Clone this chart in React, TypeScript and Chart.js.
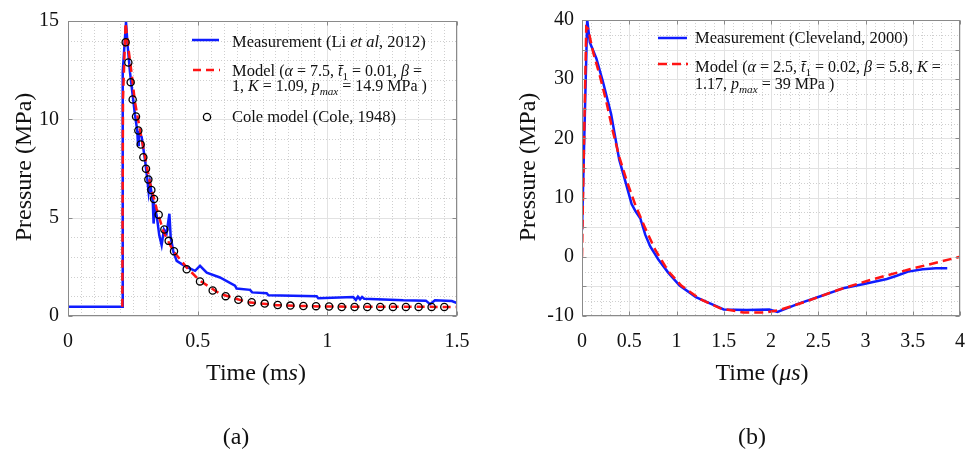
import React, { useEffect, useRef } from 'react';
import { Chart, registerables } from 'chart.js';
Chart.register(...registerables);

const FONT = '"Liberation Serif", "Times New Roman", serif';

// ---------- Panel (a) data: time (ms), pressure (MPa) ----------
const measATime = [0, 0.2095, 0.211, 0.2237, 0.229, 0.239, 0.258, 0.267, 0.270, 0.273, 0.284, 0.297, 0.306, 0.311, 0.316, 0.327, 0.330, 0.335, 0.342, 0.352, 0.361, 0.370, 0.380, 0.391, 0.396, 0.406, 0.419, 0.451, 0.490, 0.509, 0.535, 0.586, 0.644, 0.650, 0.702, 0.710, 0.766, 0.773, 0.820, 0.959, 0.965, 1.100, 1.110, 1.118, 1.126, 1.134, 1.142, 1.293, 1.380, 1.396, 1.415, 1.480, 1.500];
const measAPressure = [0.47, 0.47, 12.4, 14.95, 13.9, 12.4, 10.26, 9.43, 8.7, 9.3, 9.1, 7.94, 6.94, 6.3, 6.8, 5.8, 4.7, 5.5, 5.1, 4.1, 3.6, 4.4, 4.2, 5.2, 4.0, 3.3, 2.8, 2.54, 2.3, 2.55, 2.2, 1.96, 1.54, 1.4, 1.33, 1.2, 1.16, 1.05, 1.04, 1.0, 0.9, 0.96, 0.82, 0.98, 0.85, 0.97, 0.88, 0.8, 0.78, 0.6, 0.8, 0.76, 0.66];
const modelATime = [0.2095, 0.212, 0.222, 0.233, 0.246, 0.258, 0.278, 0.297, 0.316, 0.342, 0.368, 0.406, 0.458, 0.509, 0.586, 0.689, 0.805, 0.98, 1.5];
const modelAPressure = [0.47, 11, 14.9, 13.6, 12.26, 10.9, 9.43, 8.1, 6.78, 5.45, 4.28, 3.3, 2.46, 1.79, 1.13, 0.71, 0.55, 0.48, 0.46];
const coleTime = [0.2224, 0.2327, 0.2417, 0.2494, 0.2622, 0.2712, 0.2803, 0.2905, 0.3008, 0.3098, 0.3214, 0.3317, 0.3497, 0.3715, 0.3882, 0.4088, 0.4577, 0.509, 0.5579, 0.608, 0.6569, 0.7083, 0.7585, 0.8086, 0.8574, 0.9076, 0.9564, 1.0066, 1.0554, 1.105, 1.154, 1.204, 1.253, 1.303, 1.352, 1.402, 1.451];
const colePressure = [13.92, 12.89, 11.89, 11.01, 10.15, 9.43, 8.72, 8.07, 7.49, 6.94, 6.41, 5.95, 5.15, 4.40, 3.82, 3.29, 2.38, 1.76, 1.30, 1.01, 0.83, 0.70, 0.63, 0.56, 0.53, 0.51, 0.50, 0.48, 0.46, 0.46, 0.46, 0.46, 0.46, 0.46, 0.46, 0.46, 0.46];

// ---------- Panel (b) data: time (us), pressure (MPa) ----------
const measBTime = [0, 0.055, 0.083, 0.152, 0.221, 0.308, 0.394, 0.463, 0.525, 0.567, 0.618, 0.670, 0.722, 0.808, 0.912, 1.033, 1.205, 1.36, 1.5, 1.741, 1.982, 2.069, 2.293, 2.5, 2.777, 2.984, 3.226, 3.33, 3.451, 3.606, 3.744, 3.865];
const measBPressure = [4.5, 40.1, 36.2, 33.5, 29.6, 24.1, 16.4, 12.5, 8.9, 7.66, 6.44, 3.7, 1.76, -0.45, -2.67, -4.87, -6.8, -7.9, -8.9, -9.0, -8.9, -9.3, -7.9, -6.8, -5.26, -4.6, -3.76, -3.2, -2.5, -2.1, -1.95, -1.95];
const modelBTime = [0, 0.008, 0.045, 0.065, 0.117, 0.187, 0.256, 0.325, 0.394, 0.48, 0.567, 0.67, 0.774, 0.912, 1.05, 1.257, 1.464, 1.707, 1.948, 2.086, 2.363, 2.708, 3.054, 3.468, 4.0];
const modelBPressure = [0, 8, 38.8, 38.5, 34.6, 30.7, 26.3, 21.3, 16.9, 12.5, 8.65, 4.8, 1.2, -2.4, -4.87, -7.2, -8.7, -9.4, -9.4, -9.0, -7.6, -5.6, -3.9, -2.1, 0.0];

// axis ranges / tick steps
const xRangeA = [0, 1.5];
const yRangeA = [0, 15];
const xRangeB = [0, 4];
const yRangeB = [-10, 40];

const pts = (xs: number[], ys: number[]) => xs.map((x, i) => ({ x, y: ys[i] }));

type Seg = { t: string; s?: number; i?: boolean; sub?: boolean };

function segWidth(ctx: CanvasRenderingContext2D, segs: Seg[], base: number) {
  let w = 0;
  for (const g of segs) {
    const size = (g.s ?? base) * (g.sub ? 0.7 : 1);
    ctx.font = `${g.i ? 'italic ' : ''}${size}px ${FONT}`;
    w += ctx.measureText(g.t).width;
  }
  return w;
}

function drawRich(ctx: CanvasRenderingContext2D, x: number, y: number, segs: Seg[], base: number) {
  let cx = x;
  ctx.textBaseline = 'alphabetic';
  ctx.textAlign = 'left';
  for (const g of segs) {
    const sz = g.s ?? base;
    const size = sz * (g.sub ? 0.7 : 1);
    ctx.font = `${g.i ? 'italic ' : ''}${size}px ${FONT}`;
    ctx.fillText(g.t, cx, y + (g.sub ? sz * 0.25 : 0));
    cx += ctx.measureText(g.t).width;
  }
}

// legend / title texts
const M = 16; // math size
const L = 16.5; // legend text size
const legendA = {
  meas: [{ t: 'Measurement (Li ', s: L }, { t: 'et al', s: L, i: true }, { t: ', 2012)', s: L }] as Seg[],
  model1: [{ t: 'Model ', s: L }, { t: '(' }, { t: 'α', i: true }, { t: ' = 7.5, ' }, { t: 't\u0304', i: true }, { t: '1', sub: true }, { t: ' = 0.01, ' }, { t: 'β', i: true }, { t: ' =' }] as Seg[],
  model2: [{ t: '1, ' }, { t: 'K', i: true }, { t: ' = 1.09, ' }, { t: 'p', i: true }, { t: 'max', i: true, sub: true }, { t: ' = 14.9 MPa )' }] as Seg[],
  cole: [{ t: 'Cole model (Cole, 1948)', s: L }] as Seg[],
};
const legendB = {
  meas: [{ t: 'Measurement (Cleveland, 2000)', s: L }] as Seg[],
  model1: [{ t: 'Model ', s: L }, { t: '(' }, { t: 'α', i: true }, { t: ' = 2.5, ' }, { t: 't\u0304', i: true }, { t: '1', sub: true }, { t: ' = 0.02, ' }, { t: 'β', i: true }, { t: ' = 5.8, ' }, { t: 'K', i: true }, { t: ' =' }] as Seg[],
  model2: [{ t: '1.17, ' }, { t: 'p', i: true }, { t: 'max', i: true, sub: true }, { t: ' = 39 MPa )' }] as Seg[],
};
const yTitle: Seg[] = [{ t: 'Pressure (MPa)' }];
const xTitleA: Seg[] = [{ t: 'Time (m' }, { t: 's', i: true }, { t: ')' }];
const xTitleB: Seg[] = [{ t: 'Time (' }, { t: 'μs', i: true }, { t: ')' }];

const BLUE = '#0f1cff';
const RED = '#ff1414';

function gridPlugin(g: { xMajor: number; xMinor: number; yMajor: number; yMinor: number }) {
  const steps = (min: number, max: number, step: number) => {
    const n = Math.round((max - min) / step);
    const out: number[] = [];
    for (let k = 0; k <= n; k++) out.push(min + k * step);
    return out;
  };
  const isMaj = (v: number, maj: number) => Math.abs(v / maj - Math.round(v / maj)) < 1e-6;
  return {
    id: 'mgrid',
    beforeDatasetsDraw(chart: any) {
      const { ctx, chartArea: a, scales } = chart;
      const xs = scales.x, ys = scales.y;
      ctx.save();
      ctx.lineWidth = 1;
      ctx.strokeStyle = '#cfcfcf';
      ctx.setLineDash([1, 2]);
      for (const v of steps(xs.min, xs.max, g.xMinor)) {
        if (isMaj(v, g.xMajor)) continue;
        const p = Math.round(xs.getPixelForValue(v)) + 0.5;
        ctx.beginPath(); ctx.moveTo(p, a.top); ctx.lineTo(p, a.bottom); ctx.stroke();
      }
      for (const v of steps(ys.min, ys.max, g.yMinor)) {
        if (isMaj(v, g.yMajor)) continue;
        const p = Math.round(ys.getPixelForValue(v)) + 0.5;
        ctx.beginPath(); ctx.moveTo(a.left, p); ctx.lineTo(a.right, p); ctx.stroke();
      }
      ctx.setLineDash([]);
      ctx.strokeStyle = '#e2e2e2';
      for (const v of steps(xs.min, xs.max, g.xMajor)) {
        const p = Math.round(xs.getPixelForValue(v)) + 0.5;
        ctx.beginPath(); ctx.moveTo(p, a.top); ctx.lineTo(p, a.bottom); ctx.stroke();
      }
      for (const v of steps(ys.min, ys.max, g.yMajor)) {
        const p = Math.round(ys.getPixelForValue(v)) + 0.5;
        ctx.beginPath(); ctx.moveTo(a.left, p); ctx.lineTo(a.right, p); ctx.stroke();
      }
      ctx.restore();
    },
    afterDatasetsDraw(chart: any) {
      const { ctx, chartArea: a, scales } = chart;
      const xs = scales.x, ys = scales.y;
      ctx.save();
      ctx.strokeStyle = '#8a8a8a';
      ctx.lineWidth = 1;
      const l = Math.round(a.left) + 0.5, r = Math.round(a.right) - 0.5;
      const t = Math.round(a.top) + 0.5, b = Math.round(a.bottom) - 0.5;
      ctx.strokeRect(l, t, r - l, b - t);
      const tl = 4;
      for (const v of steps(xs.min, xs.max, g.xMajor)) {
        const p = Math.round(xs.getPixelForValue(v)) + 0.5;
        ctx.beginPath(); ctx.moveTo(p, b); ctx.lineTo(p, b - tl); ctx.moveTo(p, t); ctx.lineTo(p, t + tl); ctx.stroke();
      }
      for (const v of steps(ys.min, ys.max, g.yMajor)) {
        const p = Math.round(ys.getPixelForValue(v)) + 0.5;
        ctx.beginPath(); ctx.moveTo(l, p); ctx.lineTo(l + tl, p); ctx.moveTo(r, p); ctx.lineTo(r - tl, p); ctx.stroke();
      }
      ctx.restore();
    },
  };
}

type LegendItem = { kind: 'line' | 'dash' | 'circle'; x1: number; x2: number; y: number; color: string; dash?: number[] };
type TextItem = { segs: Seg[]; x: number; y: number; base: number; align?: 'left' | 'center'; rotate?: boolean };

function annotPlugin(items: LegendItem[], texts: TextItem[]) {
  return {
    id: 'annot',
    afterDraw(chart: any) {
      const ctx: CanvasRenderingContext2D = chart.ctx;
      ctx.save();
      for (const it of items) {
        ctx.strokeStyle = it.color;
        if (it.kind === 'circle') {
          ctx.lineWidth = 1.3;
          ctx.setLineDash([]);
          ctx.beginPath(); ctx.arc((it.x1 + it.x2) / 2, it.y, 3.6, 0, Math.PI * 2); ctx.stroke();
        } else {
          ctx.lineWidth = 2.5;
          ctx.setLineDash(it.dash || []);
          ctx.beginPath(); ctx.moveTo(it.x1, it.y); ctx.lineTo(it.x2, it.y); ctx.stroke();
        }
      }
      ctx.setLineDash([]);
      ctx.fillStyle = '#111';
      for (const tx of texts) {
        const w = segWidth(ctx, tx.segs, tx.base);
        const x0 = tx.align === 'center' ? -w / 2 : 0;
        if (tx.rotate) {
          ctx.save();
          ctx.translate(tx.x, tx.y);
          ctx.rotate(-Math.PI / 2);
          drawRich(ctx, x0, 0, tx.segs, tx.base);
          ctx.restore();
        } else {
          drawRich(ctx, tx.x + x0, tx.y, tx.segs, tx.base);
        }
      }
      ctx.restore();
    },
  };
}

type PanelCfg = {
  left: number; w: number;
  area: { left: number; right: number; top: number; bottom: number };
  xr: number[]; yr: number[]; xStep: number; yStep: number;
  grid: { xMajor: number; xMinor: number; yMajor: number; yMinor: number };
  datasets: any[];
  items: LegendItem[]; texts: TextItem[];
  yPad: number;
};

const H = 456;
const fmt = (v: any) => String(Math.round(Number(v) * 1000) / 1000);

function Panel({ cfg }: { cfg: PanelCfg }) {
  const ref = useRef<HTMLCanvasElement>(null);
  useEffect(() => {
    const tickFont = { family: FONT, size: 20 };
    const chart = new Chart(ref.current as HTMLCanvasElement, {
      type: 'scatter',
      data: { datasets: cfg.datasets },
      options: {
        responsive: false,
        animation: false,
        devicePixelRatio: 1,
        layout: { padding: { left: 0, top: cfg.area.top, right: cfg.w - cfg.area.right, bottom: 0 } },
        plugins: { legend: { display: false }, tooltip: { enabled: false } },
        scales: {
          x: {
            type: 'linear', min: cfg.xr[0], max: cfg.xr[1],
            ticks: { stepSize: cfg.xStep, font: tickFont, color: '#111', padding: 14, maxRotation: 0, autoSkip: false, callback: fmt },
            grid: { display: false, drawTicks: false },
            border: { display: false },
            afterFit: (s: any) => { s.height = H - cfg.area.bottom; },
          },
          y: {
            type: 'linear', min: cfg.yr[0], max: cfg.yr[1],
            ticks: { stepSize: cfg.yStep, font: tickFont, color: '#111', padding: cfg.yPad, autoSkip: false, callback: fmt },
            grid: { display: false, drawTicks: false },
            border: { display: false },
            afterFit: (s: any) => { s.width = cfg.area.left; },
          },
        },
      } as any,
      plugins: [gridPlugin(cfg.grid), annotPlugin(cfg.items, cfg.texts)],
    });
    return () => chart.destroy();
  }, []);
  return (
    <canvas
      ref={ref}
      width={cfg.w}
      height={H}
      style={{ position: 'absolute', left: cfg.left, top: 0, width: cfg.w, height: H, display: 'block' }}
    />
  );
}

const lineDs = (label: string, data: any[], color: string, dash: number[], order: number) => ({
  label, data, showLine: true, borderColor: color, backgroundColor: color, borderWidth: 2.5,
  borderDash: dash, pointRadius: 0, pointHoverRadius: 0, tension: 0, order,
});

const cfgA: PanelCfg = {
  left: 0, w: 490,
  area: { left: 68, right: 457, top: 15, bottom: 316 },
  xr: xRangeA, yr: yRangeA, xStep: 0.5, yStep: 5,
  grid: { xMajor: 0.5, xMinor: 0.05, yMajor: 5, yMinor: 1 },
  yPad: 9,
  datasets: [
    {
      label: 'Cole model (Cole, 1948)', data: pts(coleTime, colePressure), showLine: false,
      pointRadius: 3.6, pointBorderWidth: 1.3, pointBorderColor: '#000', pointBackgroundColor: 'rgba(0,0,0,0)', order: 0,
    },
    lineDs('Model', pts(modelATime, modelAPressure), RED, [8, 5], 1),
    lineDs('Measurement (Li et al, 2012)', pts(measATime, measAPressure), BLUE, [], 2),
  ],
  items: [
    { kind: 'line', x1: 192, x2: 219, y: 40, color: BLUE },
    { kind: 'dash', x1: 193, x2: 220, y: 70, color: RED, dash: [8, 5] },
    { kind: 'circle', x1: 207, x2: 207, y: 117, color: '#000' },
  ],
  texts: [
    { segs: legendA.meas, x: 232, y: 47, base: L },
    { segs: legendA.model1, x: 232, y: 76, base: M },
    { segs: legendA.model2, x: 232, y: 91, base: M },
    { segs: legendA.cole, x: 232, y: 122, base: L },
    { segs: xTitleA, x: 256, y: 380, base: 24, align: 'center' },
    { segs: yTitle, x: 31, y: 167, base: 24, align: 'center', rotate: true },
    { segs: [{ t: '(a)' }], x: 236, y: 444, base: 24, align: 'center' },
  ],
};

const OB = 490;
const cfgB: PanelCfg = {
  left: OB, w: 489,
  area: { left: 582 - OB, right: 968 - OB, top: 14, bottom: 316 },
  xr: xRangeB, yr: yRangeB, xStep: 0.5, yStep: 10,
  grid: { xMajor: 0.5, xMinor: 0.1, yMajor: 5, yMinor: 2.5 },
  yPad: 8,
  datasets: [
    lineDs('Model', pts(modelBTime, modelBPressure), RED, [9, 5], 1),
    lineDs('Measurement (Cleveland, 2000)', pts(measBTime, measBPressure), BLUE, [], 2),
  ],
  items: [
    { kind: 'line', x1: 658 - OB, x2: 687 - OB, y: 38, color: BLUE },
    { kind: 'dash', x1: 658 - OB, x2: 688 - OB, y: 64, color: RED, dash: [9, 5] },
  ],
  texts: [
    { segs: legendB.meas, x: 695 - OB, y: 43, base: L },
    { segs: legendB.model1, x: 695 - OB, y: 72, base: M },
    { segs: legendB.model2, x: 695 - OB, y: 89, base: M },
    { segs: xTitleB, x: 762 - OB, y: 380, base: 24, align: 'center' },
    { segs: yTitle, x: 535 - OB, y: 167, base: 24, align: 'center', rotate: true },
    { segs: [{ t: '(b)' }], x: 752 - OB, y: 444, base: 24, align: 'center' },
  ],
};

export default function App() {
  return (
    <div style={{ position: 'absolute', left: 0, top: 0, width: 979, height: 456, background: '#fff', overflow: 'hidden' }}>
      <Panel cfg={cfgA} />
      <Panel cfg={cfgB} />
    </div>
  );
}
